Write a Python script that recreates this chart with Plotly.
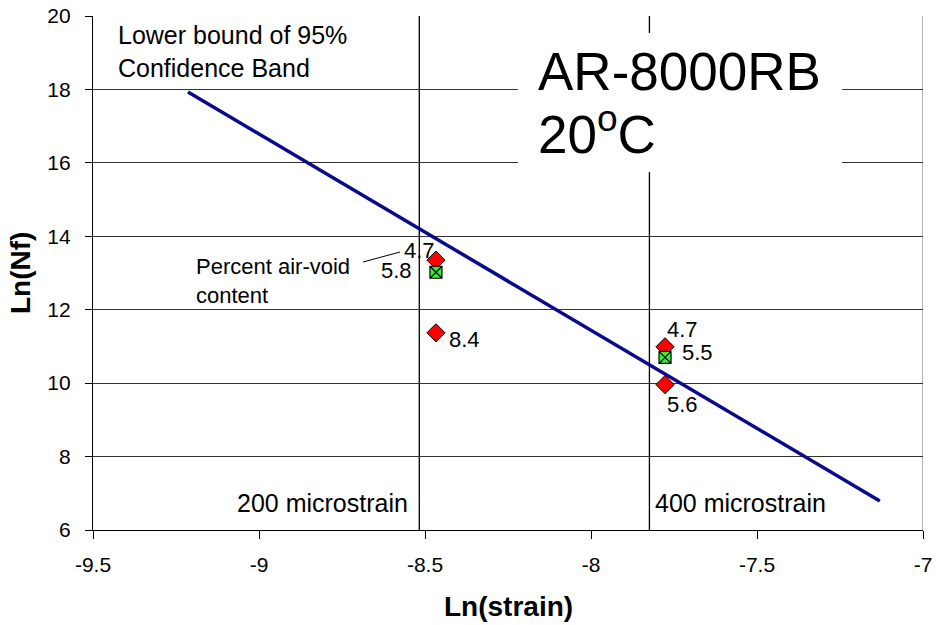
import numpy as np
import plotly.graph_objects as go

# Fatigue data: ln(strain) vs ln(cycles to failure)
red_x = [-8.467, -8.467, -7.777, -7.777]
red_y = [13.35, 11.37, 10.99, 9.96]
red_labels = ["4.7", "8.4", "4.7", "5.6"]

green_x = [-8.467, -7.777]
green_y = [13.02, 10.70]
green_labels = ["5.8", "5.5"]

# Lower bound of the 95% confidence band
band_x = [-9.214, -7.13]
band_y = [17.93, 6.79]

# Reference strain levels (microstrain)
strain_levels = [200, 400]
strain_names = ["200 microstrain", "400 microstrain"]

x_ticks = [-9.5, -9, -8.5, -8, -7.5, -7]
y_ticks = [6, 8, 10, 12, 14, 16, 18, 20]

FONT = "Liberation Sans, Arial, sans-serif"

# plot-area geometry in pixels (used to place free text)
L, R, T, B = 93, 923, 16, 530


def px(xp):
    return (xp - L) / (R - L)


def py(yp):
    return (B - yp) / (B - T)


fig = go.Figure()

fig.add_trace(go.Scatter(
    x=band_x, y=band_y, mode="lines",
    line=dict(color="#0a0a8c", width=3.5), showlegend=False, hoverinfo="skip"))

fig.add_trace(go.Scatter(
    x=red_x, y=red_y, mode="markers",
    marker=dict(symbol="diamond", size=14, color="#ff0000",
                line=dict(color="black", width=1)),
    showlegend=False))

fig.add_trace(go.Scatter(
    x=green_x, y=green_y, mode="markers",
    marker=dict(symbol="square-x", size=12, color="#33ee33",
                line=dict(color="black", width=1.2)),
    showlegend=False))

shapes = []
ln_levels = [np.log(s * 1e-6) for s in strain_levels]
for lx in ln_levels:
    shapes.append(dict(type="line", xref="x", yref="y", x0=lx, x1=lx, y0=6, y1=20,
                       line=dict(color="black", width=1.3), layer="below"))
# right border
shapes.append(dict(type="line", xref="x", yref="y", x0=-7, x1=-7, y0=6, y1=20,
                   line=dict(color="#888888", width=1.3), layer="below"))
# white panel behind the title text
shapes.append(dict(type="rect", xref="paper", yref="paper",
                   x0=px(518), x1=px(842), y0=py(172), y1=py(33),
                   fillcolor="white", line=dict(width=0), layer="above"))
# leader line for the air-void annotation
shapes.append(dict(type="line", xref="paper", yref="paper",
                   x0=px(363), y0=py(262), x1=px(400), y1=py(252),
                   line=dict(color="black", width=1)))

ann = []
lab_font = dict(family=FONT, size=22, color="black")
big_font = dict(family=FONT, size=25, color="black")

# point labels: (anchor, xshift, yshift) in pixels
red_offsets = [("right", 1, 10), ("left", 11, -7), ("left", 0, 17), ("left", 0, -20)]
for x, y, t, (anc, dx, dy) in zip(red_x, red_y, red_labels, red_offsets):
    ann.append(dict(x=x, y=y, text=t, showarrow=False, xanchor=anc, yanchor="middle",
                    xshift=dx, yshift=dy, font=lab_font))
green_offsets = [("right", -22, 2), ("left", 15, 5)]
for x, y, t, (anc, dx, dy) in zip(green_x, green_y, green_labels, green_offsets):
    ann.append(dict(x=x, y=y, text=t, showarrow=False, xanchor=anc, yanchor="middle",
                    xshift=dx, yshift=dy, font=lab_font))

ann.append(dict(x=ln_levels[0], y=6, text=strain_names[0], showarrow=False,
                xanchor="right", yanchor="middle", xshift=-9, yshift=27, font=big_font))
ann.append(dict(x=ln_levels[1], y=6, text=strain_names[1], showarrow=False,
                xanchor="left", yanchor="middle", xshift=4, yshift=27, font=big_font))
ann.append(dict(xref="paper", yref="paper", x=px(116), y=py(52),
                text="Lower bound of 95%<br>Confidence Band",
                showarrow=False, xanchor="left", yanchor="middle", align="left",
                font=big_font))
ann.append(dict(xref="paper", yref="paper", x=px(194), y=py(281),
                text="Percent air-void<br>content", showarrow=False,
                xanchor="left", yanchor="middle", align="left",
                font=dict(family=FONT, size=22, color="black")))
ann.append(dict(xref="paper", yref="paper", x=px(536), y=py(72),
                text="AR-8000RB", showarrow=False, xanchor="left", yanchor="middle",
                font=dict(family=FONT, size=53, color="black")))
ann.append(dict(xref="paper", yref="paper", x=px(536), y=py(130),
                text="20<sup>o</sup>C", showarrow=False, xanchor="left", yanchor="middle",
                font=dict(family=FONT, size=53, color="black")))
# axis titles
ann.append(dict(xref="paper", yref="paper", x=px(508), y=py(606),
                text="<b>Ln(strain)</b>", showarrow=False, xanchor="center", yanchor="middle",
                font=dict(family=FONT, size=28, color="black")))
ann.append(dict(xref="paper", yref="paper", x=px(20), y=0.5,
                text="<b>Ln(Nf)</b>", showarrow=False, xanchor="center", yanchor="middle",
                textangle=-90, font=dict(family=FONT, size=28, color="black")))

fig.update_layout(
    width=937, height=625,
    margin=dict(l=L, r=937 - R, t=T, b=625 - B, autoexpand=False),
    plot_bgcolor="white", paper_bgcolor="white",
    shapes=shapes, annotations=ann,
    xaxis=dict(range=[-9.5, -7], tickvals=x_ticks, ticktext=[f"{v:g}" for v in x_ticks],
               showgrid=False, zeroline=False, showline=True, linecolor="black",
               linewidth=1.3, ticks="outside", ticklen=8, tickcolor="black",
               automargin=False, ticklabelstandoff=8,
               tickfont=dict(family=FONT, size=21, color="black")),
    yaxis=dict(range=[6, 20], tickvals=y_ticks, showgrid=True, gridcolor="#333333",
               gridwidth=1, zeroline=False, showline=True, linecolor="black",
               linewidth=1.3, ticks="outside", ticklen=7, tickcolor="black",
               automargin=False, ticklabelstandoff=10,
               tickfont=dict(family=FONT, size=21, color="black")),
)

fig.write_html("out.html")
